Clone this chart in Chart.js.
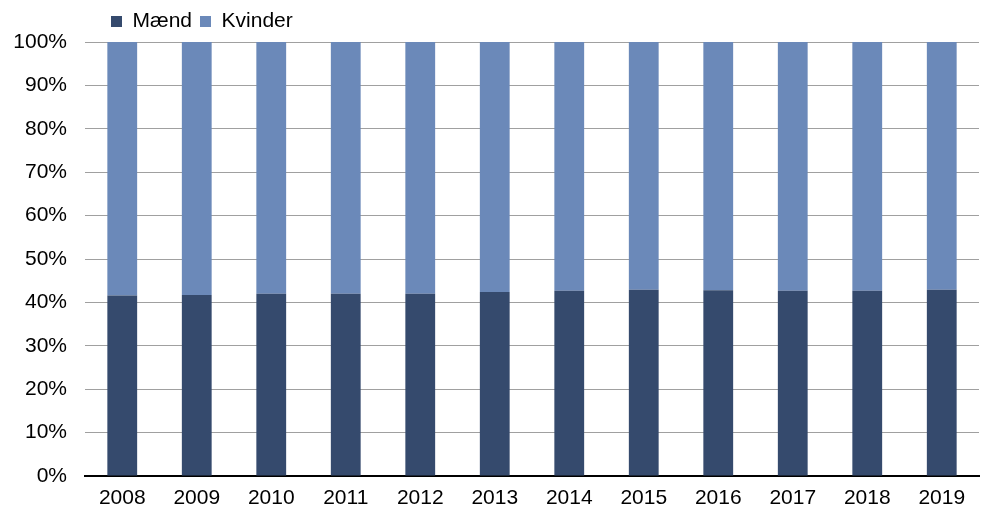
<!DOCTYPE html>
<html>
<head>
<meta charset="utf-8">
<script src="https://cdn.jsdelivr.net/npm/chart.js@4"></script>
<style>
  html, body { margin: 0; padding: 0; background: #fff; }
  #wrap { width: 986px; height: 510px; }
</style>
</head>
<body>
<div id="wrap"><canvas id="chart"></canvas></div>
<script>
const years = ['2008', '2009', '2010', '2011', '2012', '2013', '2014', '2015', '2016', '2017', '2018', '2019'];
const maend = [41.6, 41.7, 42.0, 42.0, 42.0, 42.4, 42.7, 42.9, 42.8, 42.7, 42.7, 42.9];
const kvinder = maend.map(v => 100 - v);

// legend sits over the plot area, not at the canvas edge
const legendShift = {
  id: 'legendShift',
  afterLayout(chart) {
    chart.legend.left = 103;
  }
};

Chart.defaults.font.family = '"Liberation Sans", Arial, sans-serif';
Chart.defaults.font.size = 21;
Chart.defaults.color = '#000';

new Chart(document.getElementById('chart'), {
  type: 'bar',
  data: {
    labels: years,
    datasets: [
      { label: 'Mænd', data: maend, backgroundColor: '#354A6D', categoryPercentage: 0.8, barPercentage: 0.5 },
      { label: 'Kvinder', data: kvinder, backgroundColor: '#6B89B9', categoryPercentage: 0.8, barPercentage: 0.5 }
    ]
  },
  options: {
    responsive: true,
    maintainAspectRatio: false,
    animation: false,
    layout: { padding: { left: 0, right: 7, top: 3, bottom: 0 } },
    plugins: {
      legend: {
        position: 'top',
        align: 'start',
        labels: { boxWidth: 11, boxHeight: 11, padding: 8, color: '#000' }
      },
      tooltip: { enabled: false }
    },
    scales: {
      x: {
        stacked: true,
        grid: { display: false, drawTicks: false },
        border: { color: '#000', width: 2 },
        ticks: { padding: 10 },
        afterFit(scale) { scale.height = 34; }
      },
      y: {
        stacked: true,
        min: 0,
        max: 100,
        ticks: { stepSize: 10, padding: 18, callback: v => v + '%' },
        grid: { color: '#a0a0a0', lineWidth: 1, drawTicks: false },
        border: { display: false },
        afterFit(scale) { scale.width = 85; }
      }
    }
  },
  plugins: [legendShift]
});
</script>
</body>
</html>
